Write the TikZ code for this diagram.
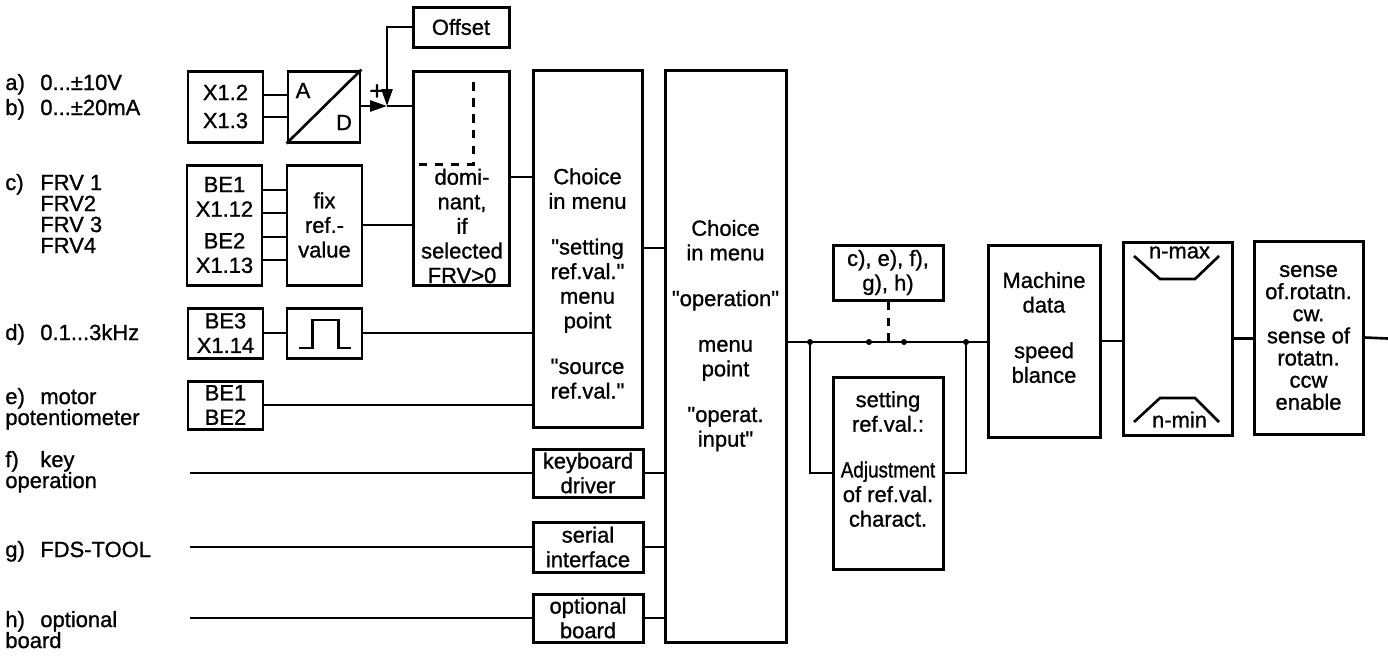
\documentclass[tikz,border=0pt]{standalone}
\usepackage{fontspec}
\usepackage{graphicx}
\setmainfont{Liberation Sans}[FakeBold=1]
\usetikzlibrary{arrows.meta}
\tikzset{
  blk/.style 2 args={draw, line width=1.7pt, inner sep=0pt, align=center,
    minimum width=#1*0.02cm, minimum height=#2*0.02cm},
  txt/.style={inner sep=0pt, align=center},
  wire/.style={line width=1.5pt},
  tip/.style={-{Triangle[length=0.34cm,width=0.22cm]}},
  dsh/.style={line width=1.7pt, dash pattern=on 0.17cm off 0.15cm},
  jdot/.style={circle, fill, inner sep=0pt, minimum size=0.12cm},
}
\newcommand{\lab}[2]{\makebox[0.7cm][l]{#1}#2}
\newcommand{\qd}{\textquotedbl}
\begin{document}
\begin{tikzpicture}[x=0.02cm, y=-0.02cm,
    every node/.style={font=\fontsize{12.5}{14}\selectfont}]
  \useasboundingbox (0,0) rectangle (1388,657);
  % signal sources
  \node[txt, anchor=base west] (ina) at (5,90) {\lab{a)}{0...±10V}};
  \node[txt, anchor=base west] (inb) at (5,115) {\lab{b)}{0...±20mA}};
  \node[txt, anchor=base west] (inc) at (5,190) {\lab{c)}{FRV 1}};
  \foreach \y/\t [count=\i] in {211/FRV2, 232/FRV 3, 253/FRV4}
    \node[txt, anchor=base west] (frv\i) at (40,\y) {\t};
  \node[txt, anchor=base west] (ind) at (5,340) {\lab{d)}{0.1...3kHz}};
  \node[txt, anchor=base west] (ine) at (5,404) {\lab{e)}{motor}};
  \node[txt, anchor=base west] (ine2) at (5,425) {potentiometer};
  \node[txt, anchor=base west] (inf) at (5,467) {\lab{f)}{key}};
  \node[txt, anchor=base west] (inf2) at (5,488) {operation};
  \node[txt, anchor=base west] (ing) at (5,557) {\lab{g)}{FDS-TOOL}};
  \node[txt, anchor=base west] (inh) at (5,627) {\lab{h)}{optional}};
  \node[txt, anchor=base west] (inh2) at (5,648) {board};

  % input blocks
  \node[blk={75}{71}] (xab) at (225.5,106.5) {X1.2\\[2pt]X1.3};
  \node[blk={72}{71}] (ad) at (324,106.5) {};
  \draw[wire] (ad.south west) -- (ad.north east);
  \node[txt] (adA) at ([shift={(-21,-16)}]ad.center) {A};
  \node[txt] (adD) at ([shift={(20,16)}]ad.center) {D};
  \node[blk={96}{40}] (offset) at (461,27) {Offset};
  \node[blk={75}{120}] (be12) at (224.5,225) {BE1\\X1.12\\[4pt]BE2\\X1.13};
  \node[blk={75}{120}] (fix) at (324.5,225) {fix\\ref.-\\value};
  \node[blk={75}{50}] (be3) at (225.5,333) {BE3\\X1.14};
  \node[blk={75}{50}] (pulse) at (324.5,333) {};
  \draw[wire] ([shift={(-26,15)}]pulse.center) -- ++(14,0) -- ++(0,-28)
    -- ++(26,0) -- ++(0,28) -- ++(12,0);
  \node[blk={75}{48}] (be1be2) at (225.5,405) {BE1\\BE2};
  \node[blk={96}{214}] (domi) at (461,178) {};
  \node[txt] (domit) at (462,226) {domi-\\nant,\\if\\selected\\FRV>0};
  \draw[dsh] (473,82) -- (473,164) -- (domi.west |- 0,164);

  % menus
  \node[blk={109}{357}] (choice1) at (587.5,248.5) {};
  \node[txt] (choice1t) at (587.5,283.5)
    {Choice\\in menu\\[12pt]\qd setting\\ref.val.\qd\\menu\\point\\[12pt]\qd source\\ref.val.\qd};
  \node[blk={110}{48}] (kbd) at (588,473) {keyboard\\driver};
  \node[blk={110}{50}] (serial) at (588,547) {serial\\interface};
  \node[blk={110}{48}] (optb) at (588,618) {optional\\board};
  \node[blk={121}{572}] (choice2) at (725.5,356) {};
  \node[txt] (choice2t) at (725.5,335.5)
    {Choice\\in menu\\[12pt]\qd operation\qd\\[12pt]menu\\point\\[12pt]\qd operat.\\input\qd};

  % characteristic and limits
  \node[blk={110}{55}] (sel) at (888,272.5) {c), e), f),\\g), h)};
  \node[blk={110}{192}] (adj) at (888,473) {};
  \node[txt] (adjt) at (888,459)
    {setting\\ref.val.:\\[12pt]\scalebox{0.86}[1]{Adjustment}\\of ref.val.\\charact.};
  \node[blk={112}{192}] (mach) at (1044,341) {};
  \node[txt] (macht) at (1044,327.5) {Machine\\data\\[12pt]speed\\blance};
  \node[blk={109}{193}] (lim) at (1177.5,338.5) {};
  \draw[wire] ([shift={(-43.5,-82.5)}]lim.center) -- ++(26,23) -- ++(35,0) -- ++(24,-23);
  \draw[wire] ([shift={(-43.5,83.5)}]lim.center) -- ++(26,-24) -- ++(35,0) -- ++(24,24);
  \node[txt] (nmax) at ([shift={(2,-86)}]lim.center) {n-max};
  \node[txt] (nmin) at ([shift={(2,81)}]lim.center) {n-min};
  \node[blk={109}{193}, font=\fontsize{12.5}{12.6}\selectfont] (sense) at (1308.5,337.5)
    {sense\\of.rotatn.\\cw.\\sense of\\rotatn.\\ccw\\enable};

  % connections
  \coordinate (jn) at (387,106);
  \coordinate (bus) at (0,342);
  \coordinate (out) at (1388,338.5);
  \foreach \y in {95,117}
    \draw[wire] (xab.east |- 0,\y) -- (ad.west |- 0,\y);
  \draw[wire, tip] (ad.east |- jn) -- (jn);
  \draw[wire, tip] (offset.west) -| (jn);
  \node[txt, font=\fontsize{15}{15}\selectfont] (plus) at (377,92) {+};
  \draw[wire] (jn) -- (domi.west |- jn);
  \foreach \y in {190,213,237,260}
    \draw[wire] (be12.east |- 0,\y) -- (fix.west |- 0,\y);
  \draw[wire] (fix.east) -- (domi.west |- fix.east);
  \draw[wire] (domi.east |- 0,177) -- (choice1.west |- 0,177);
  \draw[wire] (be3.east) -- (pulse.west);
  \draw[wire] (pulse.east) -- (choice1.west |- pulse.east);
  \draw[wire] (be1be2.east) -- (choice1.west |- be1be2.east);
  \draw[wire] (choice1.east |- 0,248) -- (choice2.west |- 0,248);
  \foreach \b in {kbd, serial, optb} {
    \draw[wire] (\b.west) -- (190,0 |- \b.west);
    \draw[wire] (\b.east) -- (choice2.west |- \b.east);
  }
  \draw[wire] (choice2.east |- bus) -- (mach.west |- bus);
  \foreach \x/\n in {810/ja, 869/jb, 904/jc, 966/jd}
    \node[jdot] (\n) at (\x,342) {};
  \draw[wire] (ja.center) |- (adj.west);
  \draw[wire] (adj.east) -| (jd.center);
  \draw[dsh] (sel.south) -- (sel.south |- bus);
  \draw[wire] (mach.east) -- (lim.west |- mach.east);
  \draw[wire] (lim.east) -- (sense.west |- lim.east);
  \draw[wire] (sense.east) -- (out);
\end{tikzpicture}
\end{document}
